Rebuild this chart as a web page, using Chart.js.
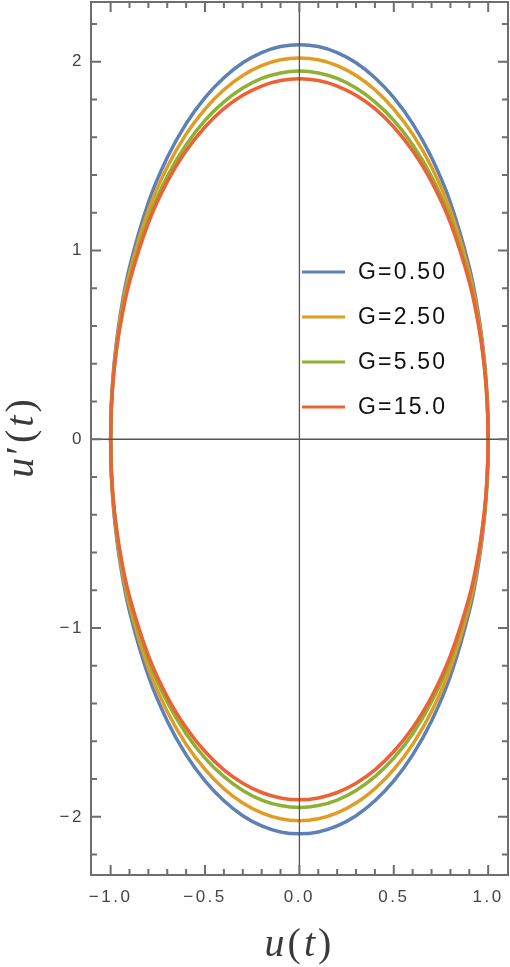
<!DOCTYPE html>
<html>
<head>
<meta charset="utf-8">
<script src="https://cdn.jsdelivr.net/npm/chart.js@4.4.1/dist/chart.umd.min.js"></script>
<style>
html, body { margin: 0; padding: 0; background: #fff; }
#wrap { width: 510px; height: 967px; position: relative; }
</style>
</head>
<body>
<div id="wrap"><canvas id="phaseChart"></canvas></div>
<script>
// SERIES
const seriesLabels = ['G=0.50', 'G=2.50', 'G=5.50', 'G=15.0'];
const seriesColors = ['#5E81B5', '#E19C24', '#8FB032', '#EB6235'];

// u(t) sample points along the upper half of the orbit (left -> right)
const uVals = [-1, -0.995, -0.98, -0.95, -0.9, -0.8, -0.7, -0.6, -0.5, -0.4, -0.3, -0.2, -0.1, 0,
  0.1, 0.2, 0.3, 0.4, 0.5, 0.6, 0.7, 0.8, 0.9, 0.95, 0.98, 0.995, 1];

// u'(t), upper half (lower half is the mirror image)
const duG050 = [0, 0.209, 0.416, 0.652, 0.911, 1.254, 1.492, 1.672, 1.810, 1.915, 1.994, 2.048, 2.080, 2.090,
  2.080, 2.048, 1.994, 1.915, 1.810, 1.672, 1.492, 1.254, 0.911, 0.652, 0.416, 0.209, 0];
const duG250 = [0, 0.202, 0.402, 0.631, 0.881, 1.212, 1.442, 1.616, 1.749, 1.851, 1.927, 1.979, 2.010, 2.020,
  2.010, 1.979, 1.927, 1.851, 1.749, 1.616, 1.442, 1.212, 0.881, 0.631, 0.402, 0.202, 0];
const duG550 = [0, 0.195, 0.388, 0.609, 0.850, 1.170, 1.392, 1.560, 1.689, 1.787, 1.860, 1.911, 1.940, 1.950,
  1.940, 1.911, 1.860, 1.787, 1.689, 1.560, 1.392, 1.170, 0.850, 0.609, 0.388, 0.195, 0];
const duG150 = [0, 0.191, 0.380, 0.596, 0.833, 1.146, 1.364, 1.528, 1.654, 1.751, 1.822, 1.871, 1.900, 1.910,
  1.900, 1.871, 1.822, 1.751, 1.654, 1.528, 1.364, 1.146, 0.833, 0.596, 0.380, 0.191, 0];

// TICKS
const xMajor = [-1, -0.5, 0, 0.5, 1];
const xMinor = [-0.9, -0.8, -0.7, -0.6, -0.4, -0.3, -0.2, -0.1, 0.1, 0.2, 0.3, 0.4, 0.6, 0.7, 0.8, 0.9];
const yMajor = [-2, -1, 0, 1, 2];
const yMinor = [-2.2, -1.8, -1.6, -1.4, -1.2, -0.8, -0.6, -0.4, -0.2, 0.2, 0.4, 0.6, 0.8, 1.2, 1.4, 1.6, 1.8, 2.2];

// closed loop: upper half then the lower half back
function orbit(du) {
  let top = uVals.map((u, i) => ({x: u, y: du[i]}));
  let bottom = uVals.map((u, i) => ({x: u, y: -du[i]})).reverse();
  return top.concat(bottom.slice(1));
}

function fmt(v, digits) {
  let s = Math.abs(v).toFixed(digits);
  return v < 0 ? '\u2212' + s : s;
}

let allSeries = [duG050, duG250, duG550, duG150];
let datasets = allSeries.map((du, i) => ({
  label: seriesLabels[i],
  data: orbit(du),
  borderColor: seriesColors[i],
  borderWidth: 3.5,
  showLine: true,
  pointRadius: 0,
  tension: 0.4,
  fill: false,
  order: allSeries.length - i   // last series drawn on top
}));

// frame, inward ticks, zero axes
const framePlugin = {
  id: 'frame',
  beforeDraw(chart) {
    chart.ctx.letterSpacing = '2.5px';
  },
  afterDatasetsDraw(chart) {
    const {ctx, chartArea: a, scales: {x, y}} = chart;
    ctx.save();
    ctx.strokeStyle = '#555';
    ctx.lineWidth = 1.3;
    ctx.beginPath();
    let x0 = x.getPixelForValue(0), y0 = y.getPixelForValue(0);
    ctx.moveTo(x0, a.top); ctx.lineTo(x0, a.bottom);
    ctx.moveTo(a.left, y0); ctx.lineTo(a.right, y0);
    ctx.stroke();

    ctx.strokeStyle = '#6e6e6e';
    ctx.lineWidth = 2;
    ctx.strokeRect(a.left, a.top, a.right - a.left, a.bottom - a.top);

    ctx.beginPath();
    let xt = (vals, len) => vals.forEach(v => {
      let px = x.getPixelForValue(v);
      ctx.moveTo(px, a.bottom); ctx.lineTo(px, a.bottom - len);
      ctx.moveTo(px, a.top); ctx.lineTo(px, a.top + len);
    });
    let yt = (vals, len) => vals.forEach(v => {
      let py = y.getPixelForValue(v);
      ctx.moveTo(a.left, py); ctx.lineTo(a.left + len, py);
      ctx.moveTo(a.right, py); ctx.lineTo(a.right - len, py);
    });
    xt(xMajor, 10); xt(xMinor, 6);
    yt(yMajor, 10); yt(yMinor, 6);
    ctx.stroke();
    ctx.restore();
  }
};

// legend inside the plot + axis titles
const legendPlugin = {
  id: 'insideLegend',
  afterDraw(chart) {
    const ctx = chart.ctx;
    ctx.save();
    ctx.letterSpacing = '2.2px';
    ctx.font = '23px "Liberation Sans", Arial, sans-serif';
    ctx.textBaseline = 'middle';
    ctx.textAlign = 'left';
    seriesLabels.forEach((lab, i) => {
      let ly = 272 + i * 45;
      ctx.strokeStyle = seriesColors[i];
      ctx.lineWidth = 3;
      ctx.beginPath();
      ctx.moveTo(302, ly); ctx.lineTo(345, ly);
      ctx.stroke();
      ctx.fillStyle = '#111';
      ctx.fillText(lab, 358, ly + 1);
    });
    ctx.restore();

    const a = chart.chartArea;
    drawMath(ctx, [['u', true], ['(', false], ['t', true], [')', false]], (a.left + a.right) / 2, 945, 0);
    drawMath(ctx, [['u', true], ['\u2032', false], ['(', false], ['t', true], [')', false]], 22, 437, -Math.PI / 2);
  }
};

function drawMath(ctx, parts, cx, cy, rot) {
  ctx.save();
  ctx.translate(cx, cy);
  ctx.rotate(rot);
  ctx.letterSpacing = '3px';
  ctx.textBaseline = 'middle';
  ctx.fillStyle = '#3a3a3a';
  let fontOf = it => (it ? 'italic ' : '') + '40px "Liberation Serif", "Times New Roman", serif';
  let w = 0;
  parts.forEach(p => { ctx.font = fontOf(p[1]); w += ctx.measureText(p[0]).width; });
  let px = -w / 2;
  parts.forEach(p => {
    ctx.font = fontOf(p[1]);
    ctx.fillText(p[0], px, 0);
    px += ctx.measureText(p[0]).width;
  });
  ctx.restore();
}

let phaseChart = new Chart(document.getElementById('phaseChart').getContext('2d'), {
  type: 'scatter',
  data: { datasets: datasets },
  options: {
    responsive: true,
    maintainAspectRatio: false,
    animation: false,
    layout: { padding: { top: 2, right: 2, left: 0, bottom: 0 } },
    plugins: { legend: { display: false }, tooltip: { enabled: false } },
    scales: {
      x: {
        type: 'linear',
        min: -1.104,
        max: 1.105,
        grid: { display: false, drawTicks: false },
        border: { display: false },
        afterBuildTicks: s => { s.ticks = xMajor.map(v => ({value: v})); },
        afterFit: s => { s.height = 92; s.paddingLeft = 0; s.paddingRight = 0; },
        ticks: {
          padding: 12,
          color: '#444',
          font: { family: '"Liberation Sans", Arial, sans-serif', size: 17 },
          maxRotation: 0,
          callback: v => fmt(v, 1)
        }
      },
      y: {
        type: 'linear',
        min: -2.308,
        max: 2.316,
        grid: { display: false, drawTicks: false },
        border: { display: false },
        afterBuildTicks: s => { s.ticks = yMajor.map(v => ({value: v})); },
        afterFit: s => { s.width = 91; s.paddingTop = 0; s.paddingBottom = 0; },
        ticks: {
          padding: 7,
          color: '#444',
          font: { family: '"Liberation Sans", Arial, sans-serif', size: 17 },
          callback: v => fmt(v, 0)
        }
      }
    }
  },
  plugins: [framePlugin, legendPlugin]
});
</script>
</body>
</html>
